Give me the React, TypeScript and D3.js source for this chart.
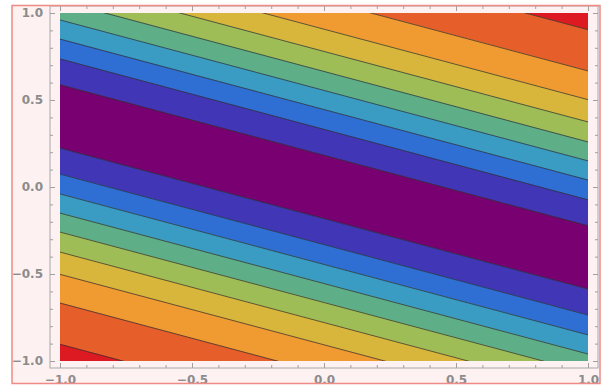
import { useEffect, useRef } from "react"
import * as d3 from "d3"

// contour boundaries, read at the left (x=-1) and right (x=1) edges, top to bottom
const lineLeft = [1.714, 1.477, 1.312, 1.184, 1.069, 0.96, 0.85, 0.736, 0.587, 0.223, 0.074, -0.04, -0.15, -0.259, -0.374, -0.502, -0.667, -0.904]
const lineRight = [0.904, 0.667, 0.502, 0.374, 0.259, 0.15, 0.04, -0.074, -0.223, -0.587, -0.736, -0.85, -0.96, -1.069, -1.184, -1.312, -1.477, -1.714]

// fill of each band, top to bottom
const bandColors = [
  "#dd1a22", "#e65e2a", "#f09a32", "#d8b63c", "#9fbd56", "#5eae88", "#3a9cc2", "#2f6fd3", "#4036b6",
  "#780070",
  "#4036b6", "#2f6fd3", "#3a9cc2", "#5eae88", "#9fbd56", "#d8b63c", "#f09a32", "#e65e2a", "#dd1a22"
]

const majorTicks = [-1, -0.5, 0, 0.5, 1]
const minorTicks = [-0.9, -0.8, -0.7, -0.6, -0.4, -0.3, -0.2, -0.1, 0.1, 0.2, 0.3, 0.4, 0.6, 0.7, 0.8, 0.9]

const ContourChart = () => {
  const svgRef = useRef<SVGSVGElement>(null)

  useEffect(() => {
    const svg = d3.select(svgRef.current)
    svg.selectAll("*").remove()

    const width = 601
    const height = 386
    const frame = { left: 50, right: 598, top: 6, bottom: 368 }

    const x = d3.scaleLinear().domain([-1, 1]).range([60, 588])
    const y = d3.scaleLinear().domain([-1, 1]).range([361, 13])

    svg.append("rect").attr("width", width).attr("height", height).attr("fill", "#ffffff")
    svg.append("rect")
      .attr("x", 12).attr("y", 6).attr("width", 588).attr("height", 377)
      .attr("fill", "#fdf1f1")

    svg.append("clipPath").attr("id", "plot-clip")
      .append("rect")
      .attr("x", x(-1)).attr("y", y(1))
      .attr("width", x(1) - x(-1)).attr("height", y(-1) - y(1))

    const plot = svg.append("g").attr("clip-path", "url(#plot-clip)")

    // bands: between consecutive boundaries, first and last open to the edge
    const upperL = [3, ...lineLeft]
    const upperR = [3, ...lineRight]
    const lowerL = [...lineLeft, -3]
    const lowerR = [...lineRight, -3]

    const area = d3.line<[number, number]>().x(d => x(d[0])).y(d => y(d[1]))

    bandColors.forEach((c, i) => {
      plot.append("path")
        .attr("d", area([[-1, upperL[i]], [1, upperR[i]], [1, lowerR[i]], [-1, lowerL[i]]]) + "Z")
        .attr("fill", c)
        .attr("stroke", c)
        .attr("stroke-width", 0.5)
    })

    lineLeft.forEach((yl, i) => {
      plot.append("path")
        .attr("d", area([[-1, yl], [1, lineRight[i]]]))
        .attr("fill", "none")
        .attr("stroke", "#2a2a2a")
        .attr("stroke-opacity", 0.7)
        .attr("stroke-width", 1)
    })

    // frame
    svg.append("rect")
      .attr("x", frame.left).attr("y", frame.top)
      .attr("width", frame.right - frame.left).attr("height", frame.bottom - frame.top)
      .attr("fill", "none").attr("stroke", "#a8a8a8").attr("stroke-width", 1)

    const fmt = d3.format(".1f")

    const styleAxis = (g: any) => {
      g.select(".domain").remove()
      g.selectAll("line").attr("stroke", "#a0a0a0")
      g.selectAll("text")
        .attr("fill", "#8c8c8c")
        .style("font-family", "'DejaVu Sans', sans-serif")
        .style("font-size", "12px")
        .style("font-weight", "bold")
    }

    // left
    svg.append("g").attr("transform", `translate(${frame.left},0)`)
      .call(d3.axisLeft(y).tickValues(majorTicks).tickSize(-5).tickPadding(7).tickFormat(fmt as any))
      .call(styleAxis)
    svg.append("g").attr("transform", `translate(${frame.left},0)`)
      .call(d3.axisLeft(y).tickValues(minorTicks).tickSize(-3).tickFormat(() => ""))
      .call(styleAxis)

    // right
    svg.append("g").attr("transform", `translate(${frame.right},0)`)
      .call(d3.axisRight(y).tickValues(majorTicks).tickSize(-5).tickFormat(() => ""))
      .call(styleAxis)
    svg.append("g").attr("transform", `translate(${frame.right},0)`)
      .call(d3.axisRight(y).tickValues(minorTicks).tickSize(-3).tickFormat(() => ""))
      .call(styleAxis)

    // bottom (labels sit against the lower image edge, as in the source)
    svg.append("g").attr("transform", `translate(0,${frame.bottom})`)
      .call(d3.axisBottom(x).tickValues(majorTicks).tickSize(-5).tickPadding(7).tickFormat(fmt as any))
      .call(styleAxis)
    svg.append("g").attr("transform", `translate(0,${frame.bottom})`)
      .call(d3.axisBottom(x).tickValues(minorTicks).tickSize(-3).tickFormat(() => ""))
      .call(styleAxis)

    // top
    svg.append("g").attr("transform", `translate(0,${frame.top})`)
      .call(d3.axisTop(x).tickValues(majorTicks).tickSize(-5).tickFormat(() => ""))
      .call(styleAxis)
    svg.append("g").attr("transform", `translate(0,${frame.top})`)
      .call(d3.axisTop(x).tickValues(minorTicks).tickSize(-3).tickFormat(() => ""))
      .call(styleAxis)

    // outer border
    svg.append("rect")
      .attr("x", 12).attr("y", 5.5).attr("width", 588).attr("height", 378)
      .attr("fill", "none").attr("stroke", "#f08a84").attr("stroke-width", 1.5)
  }, [])

  return (
    <svg ref={svgRef} width={601} height={386}
      style={{ position: "absolute", left: 0, top: 0, display: "block" }} />
  )
}

export default function App() {
  return <ContourChart />
}
